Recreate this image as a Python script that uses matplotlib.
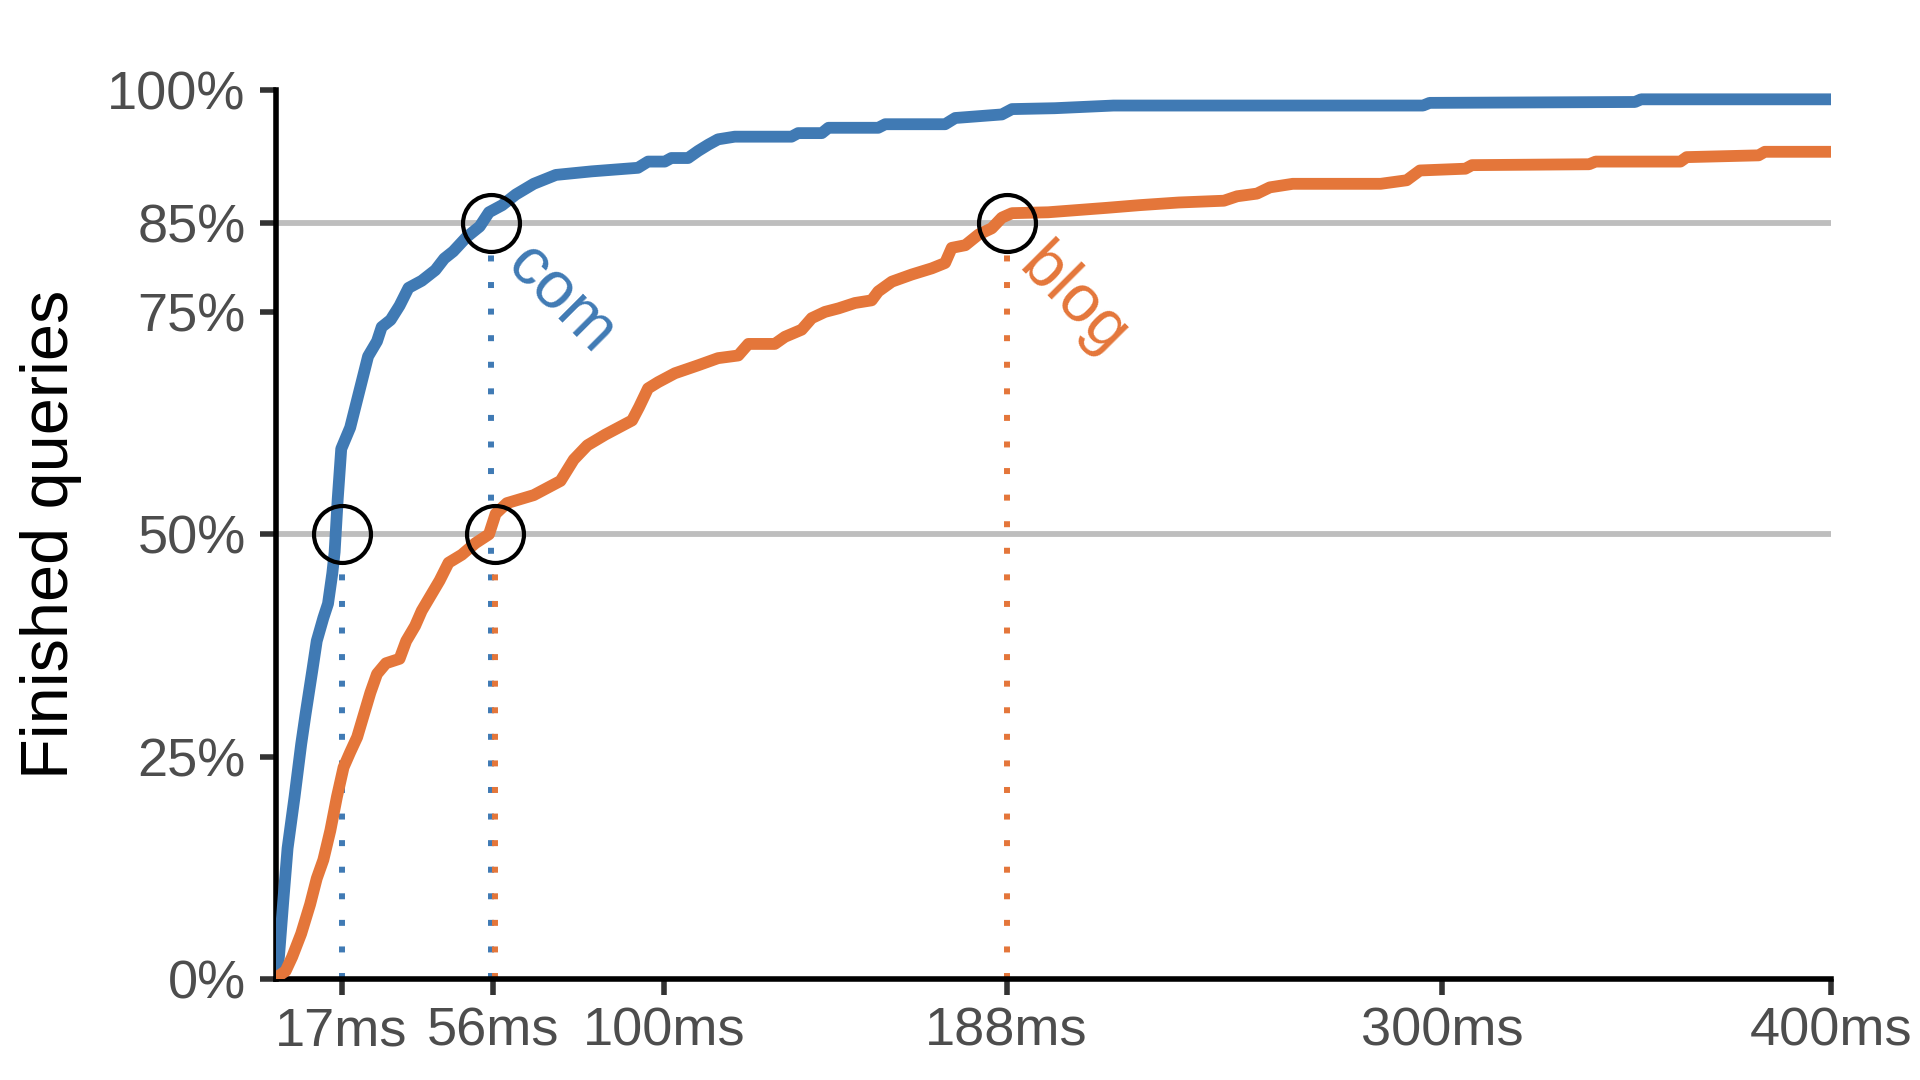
#!/usr/bin/env python3
"""
CDF of query latency for .com and .blog
"""

import numpy as np
import matplotlib
matplotlib.use('Agg')
import matplotlib.pyplot as plt
from matplotlib.ticker import FixedLocator


# Curves: latency (ms) and finished queries (%)
com_ms = [0.5, 0.9, 2.0, 3.1, 4.9, 6.6, 7.7, 9.5, 10.6, 12.3, 13.5, 14.6, 15.2,
          16.0, 16.9, 19.2, 21.5, 23.8, 26.1, 27.3, 29.6, 31.9, 34.2, 37.6,
          41.1, 43.4, 45.7, 49.1, 52.5, 54.9, 58.3, 61.8, 66.4, 72.1, 81.3,
          93.2, 95.8, 100.1, 101.8, 106.1, 108.7, 111.3, 113.8, 118.1, 132.7,
          134.4, 140.5, 142.2, 155.0, 156.8, 172.2, 174.8, 180.8, 186.8, 189.4,
          200.4, 215.5, 295.1, 296.8, 349.6, 351.2, 400.0]
com_pct = [1.0, 2.6, 8.8, 14.7, 20.5, 26.4, 29.7, 34.8, 38.0, 40.6, 42.2, 45.6,
           48.0, 54.0, 59.6, 62.0, 66.0, 70.0, 71.7, 73.3, 74.1, 75.7, 77.7,
           78.5, 79.7, 81.0, 81.8, 83.4, 84.6, 86.2, 87.0, 88.2, 89.4, 90.4,
           90.8, 91.2, 91.9, 91.9, 92.3, 92.3, 93.1, 93.8, 94.4, 94.7, 94.7,
           95.1, 95.1, 95.7, 95.7, 96.1, 96.1, 96.8, 97.0, 97.2, 97.8, 97.9,
           98.2, 98.2, 98.5, 98.6, 98.9, 98.9]

blog_ms = [0.3, 2.6, 4.3, 6.6, 8.9, 10.6, 12.3, 14.1, 15.8, 17.5, 19.2, 21.0,
           22.7, 24.4, 26.1, 28.4, 31.9, 33.6, 35.9, 37.6, 39.9, 42.2, 44.5,
           47.9, 51.4, 54.9, 56.6, 59.5, 66.4, 73.3, 76.7, 80.2, 84.8, 91.7,
           93.5, 95.8, 98.4, 102.7, 108.7, 113.8, 119.0, 121.6, 128.4, 131.0,
           135.3, 137.9, 141.3, 144.8, 149.0, 153.3, 155.0, 158.5, 163.6, 168.8,
           172.2, 173.9, 177.4, 180.8, 184.2, 186.8, 189.4, 198.7, 213.8, 222.2,
           232.3, 243.9, 247.3, 252.4, 255.7, 261.6, 284.2, 290.9, 294.3, 306.0,
           307.7, 337.8, 339.5, 361.3, 362.9, 381.4, 383.0, 400.0]
blog_pct = [0.2, 0.9, 2.5, 5.1, 8.4, 11.3, 13.4, 16.7, 20.5, 23.8, 25.5, 27.2,
            29.7, 32.2, 34.3, 35.5, 36.0, 38.0, 39.7, 41.4, 43.1, 44.8, 46.8,
            47.7, 49.0, 50.0, 52.3, 53.5, 54.4, 56.0, 58.4, 60.0, 61.2, 62.8,
            64.3, 66.4, 67.1, 68.1, 69.0, 69.8, 70.1, 71.4, 71.4, 72.2, 73.0,
            74.3, 75.0, 75.4, 76.0, 76.3, 77.3, 78.4, 79.2, 79.9, 80.5, 82.2,
            82.5, 83.7, 84.4, 85.6, 86.1, 86.2, 86.7, 87.0, 87.3, 87.5, 88.0,
            88.3, 89.0, 89.4, 89.4, 89.8, 90.9, 91.1, 91.5, 91.6, 91.9, 91.9,
            92.4, 92.6, 93.0, 93.0]

# Percentiles marked with circles: (ms, fraction)
com_marks = [(17, 0.50), (55.5, 0.85)]
blog_marks = [(56.5, 0.50), (188, 0.85)]

guide_levels = [0.50, 0.85]
x_ticks = [17, 56, 100, 188, 300, 400]
x_labels = ['17ms', '56ms', '100ms', '188ms', '300ms', '400ms']
y_ticks = [0, 0.25, 0.50, 0.75, 0.85, 1.0]
y_labels = ['0%', '25%', '50%', '75%', '85%', '100%']

BLUE = '#407ab4'
ORANGE = '#e4763a'


def main():

    plt.rcParams['font.family'] = ['Liberation Sans', 'DejaVu Sans']

    fig = plt.figure(figsize=(19.2, 10.8), dpi=100)
    ax = fig.add_axes([0.1435, 0.0935, 0.9536 - 0.1435, 0.9171 - 0.0935])

    # Lineas guia grises
    for lev in guide_levels:
        ax.axhline(lev, color='#bebebe', lw=4.2, zorder=1)

    # Lineas punteadas hasta los circulos
    r = 0.034
    for (mx, my), col in [(com_marks[0], BLUE), (com_marks[1], BLUE),
                          (blog_marks[0], ORANGE), (blog_marks[1], ORANGE)]:
        ax.plot([mx, mx], [0, my - r], color=col, lw=4.3,
                linestyle=(0, (1, 3.45)), dash_capstyle='butt', zorder=2)

    # Curvas
    ax.plot(com_ms, np.array(com_pct) / 100, color=BLUE, lw=8.5, zorder=3,
            solid_joinstyle='round')
    ax.plot(blog_ms, np.array(blog_pct) / 100, color=ORANGE, lw=8.5, zorder=3,
            solid_joinstyle='round')

    # Circulos
    for mx, my in com_marks + blog_marks:
        ax.plot(mx, my, 'o', ms=41, mfc='none', mec='black', mew=3.0,
                zorder=5, clip_on=False)

    # Etiquetas de las series
    ax.text(73.2, 0.763, 'com', color=BLUE, fontsize=48, rotation=-45,
            ha='center', va='center', rotation_mode='anchor')
    ax.text(205, 0.762, 'blog', color=ORANGE, fontsize=48, rotation=-45,
            ha='center', va='center', rotation_mode='anchor')

    ax.set_xlim(0, 400)
    ax.set_ylim(0, 1)

    ax.xaxis.set_major_locator(FixedLocator(x_ticks))
    ax.set_xticklabels(x_labels)
    ax.yaxis.set_major_locator(FixedLocator(y_ticks))
    ax.set_yticklabels(y_labels)

    for side in ['top', 'right']:
        ax.spines[side].set_visible(False)
    for side in ['left', 'bottom']:
        ax.spines[side].set_linewidth(4)
        ax.spines[side].set_color('black')
        ax.spines[side].set_capstyle('projecting')

    ax.tick_params(axis='both', length=11.5, width=4, color='#333333',
                   labelcolor='#4d4d4d', labelsize=39)
    ax.tick_params(axis='x', pad=8)
    ax.tick_params(axis='y', pad=10)

    ax.set_ylabel('Finished queries', fontsize=48, color='black', labelpad=18)

    fig.savefig('out.png', dpi=100)


if __name__ == '__main__':
    main()
